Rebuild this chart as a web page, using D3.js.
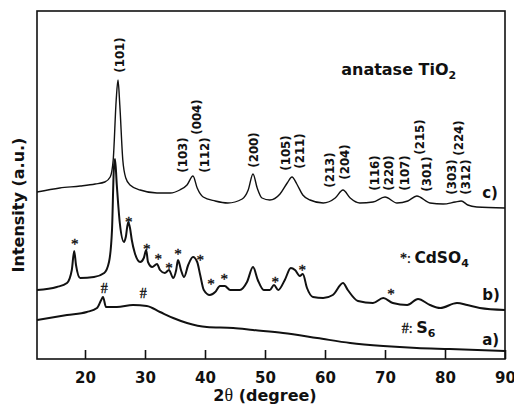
<!DOCTYPE html>
<head>
    <meta charset="utf-8">
    <script src="https://d3js.org/d3.v7.min.js"></script>
    <style>
    body { margin: 0; background: #fff; }
    text { font-family: "DejaVu Sans", sans-serif; fill: #111; }
    .bold { font-weight: bold; }
    .hkl { font-size: 11.8px; font-weight: bold; }
    .tick-label { font-size: 15px; font-weight: bold; font-family: "DejaVu Sans", sans-serif; }
    .mark { font-family: "Liberation Serif", "DejaVu Serif", serif; font-size: 15px; stroke: #111; stroke-width: 0.35px; }
    .curve { fill: none; stroke: #111; stroke-linejoin: round; }
    </style>
</head>
<body>
<script>
// c) anatase TiO2
var ttC = [12.0, 15.8, 19.2, 21.7, 23.3, 24.2, 24.7, 25.2, 25.5, 25.8, 26.3, 26.8, 27.5, 29.2, 32.0, 34.2, 35.8, 37.0, 38.0, 38.7, 39.7, 41.7, 43.8, 46.2, 47.2, 48.0, 48.7, 49.5, 50.8, 52.5, 53.7, 54.5, 55.3, 56.3, 57.5, 59.7, 61.7, 63.0, 64.2, 65.8, 68.0, 70.0, 72.0, 73.8, 75.3, 77.5, 79.7, 81.7, 82.7, 83.8, 85.3, 90.0];
var intC = [167, 171, 173, 175, 177, 182, 199, 259, 279, 254, 199, 181, 174, 169, 166, 166, 169, 174, 183, 171, 162, 158, 156, 160, 169, 185, 171, 161, 159, 165, 176, 182, 175, 164, 159, 156, 161, 169, 161, 156, 157, 162, 156, 158, 163, 156, 155, 157, 158, 154, 152, 151];

// b) with CdSO4
var ttB = [12.0, 15.3, 17.0, 17.8, 18.2, 18.5, 19.2, 21.5, 23.2, 24.0, 24.5, 24.8, 25.0, 25.3, 25.8, 26.5, 26.8, 27.2, 27.5, 27.8, 28.3, 29.2, 29.8, 30.2, 30.5, 31.2, 32.0, 32.5, 33.3, 34.0, 34.7, 35.2, 35.5, 36.0, 36.5, 37.2, 38.0, 38.7, 39.2, 39.8, 40.8, 41.7, 42.5, 43.3, 44.2, 45.8, 47.0, 48.0, 48.8, 49.8, 50.8, 51.5, 52.2, 53.3, 54.3, 55.0, 55.8, 56.3, 57.0, 58.0, 59.7, 61.3, 63.0, 63.8, 65.5, 68.0, 69.7, 71.3, 73.7, 75.5, 77.5, 79.2, 82.0, 83.7, 85.8, 90.0];
var intB = [69, 72, 76, 89, 108, 94, 81, 82, 86, 97, 129, 189, 200, 174, 136, 117, 122, 137, 131, 119, 106, 97, 101, 109, 97, 92, 95, 89, 86, 89, 81, 89, 99, 89, 82, 94, 102, 97, 84, 69, 64, 67, 73, 73, 69, 69, 77, 92, 79, 69, 69, 74, 69, 79, 91, 89, 83, 85, 71, 62, 61, 64, 76, 69, 58, 56, 61, 56, 54, 60, 54, 51, 56, 54, 51, 49];

// a) with S6
var ttA = [12.0, 17.0, 20.3, 22.0, 22.7, 23.0, 23.5, 25.3, 28.0, 30.3, 32.5, 34.7, 37.0, 40.3, 44.7, 48.0, 53.0, 58.7, 64.2, 69.7, 75.3, 80.8, 90.0];
var intA = [39, 44, 47, 51, 59, 62, 52, 52, 54, 53, 47, 41, 36, 32, 31, 29, 26, 21, 16, 13, 11, 10, 8];

var xTicks = [20, 30, 40, 50, 60, 70, 80, 90];

// (hkl) labels of anatase: name, 2theta, intensity of label centre
var hklNames = ["(101)", "(103)", "(004)", "(112)", "(200)", "(105)", "(211)", "(213)", "(204)", "(116)", "(220)", "(107)", "(215)", "(301)", "(303)", "(224)", "(312)"];
var hklTT = [25.8, 36.3, 38.7, 40.0, 48.2, 53.5, 55.8, 60.8, 63.3, 68.3, 70.7, 73.3, 75.8, 77.0, 81.2, 82.3, 83.5];
var hklInt = [304, 204, 242, 204, 209, 206, 208, 189, 197, 186, 186, 186, 222, 185, 182, 221, 182];

// CdSO4 (*) and S6 (#) peak marks
var starTT = [18.3, 27.3, 30.3, 32.2, 34.0, 35.5, 39.2, 41.0, 43.2, 51.7, 56.2, 71.0];
var starInt = [118, 140, 113, 103, 94, 108, 102, 78, 83, 80, 92, 68];
var hashTT = [23.2, 29.7];
var hashInt = [71, 66];

var W = 514, H = 405;
var svg = d3.select("body").append("svg")
    .attr("width", W)
    .attr("height", H);

var x = d3.scaleLinear().domain([12, 90]).range([37, 505]);
var y = d3.scaleLinear().domain([0, 348]).range([359, 11]);

function series(tt, inten) {
    return tt.map(function(d, i) { return [d, inten[i]]; });
}

var line = d3.line()
    .x(function(d) { return x(d[0]); })
    .y(function(d) { return y(d[1]); })
    .curve(d3.curveMonotoneX);

svg.append("path").attr("class", "curve").attr("stroke-width", 1.4).attr("d", line(series(ttC, intC)));
svg.append("path").attr("class", "curve").attr("stroke-width", 2).attr("d", line(series(ttB, intB)));
svg.append("path").attr("class", "curve").attr("stroke-width", 2).attr("d", line(series(ttA, intA)));

// frame
svg.append("rect")
    .attr("x", x(12)).attr("y", y(348))
    .attr("width", x(90) - x(12)).attr("height", y(0) - y(348))
    .attr("fill", "none").attr("stroke", "#111").attr("stroke-width", 1.6);

// bottom axis, ticks pointing inward
var xAxis = d3.axisBottom(x).tickValues(xTicks).tickSize(-9).tickFormat(d3.format("d"));
var gx = svg.append("g").attr("transform", "translate(0," + y(0) + ")").call(xAxis);
gx.select(".domain").remove();
gx.selectAll(".tick line").attr("stroke", "#111").attr("stroke-width", 1.6);
gx.selectAll(".tick text").attr("class", "tick-label").attr("fill", "#111").attr("y", 24).attr("dy", 0);

// axis titles
svg.append("text").attr("class", "bold")
    .attr("transform", "translate(24," + y(154) + ") rotate(-90)")
    .attr("text-anchor", "middle")
    .style("font-size", "16px")
    .text("Intensity (a.u.)");

var xt = svg.append("text").attr("class", "bold")
    .attr("x", x(50)).attr("y", 401)
    .attr("text-anchor", "middle")
    .style("font-size", "16px");
xt.append("tspan").text("2");
xt.append("tspan").style("font-family", "'Liberation Serif', serif").style("font-weight", "normal").style("font-size", "18px").text("\u03b8");
xt.append("tspan").text(" (degree)");

// hkl labels
svg.selectAll(".hkl")
    .data(hklNames)
    .enter().append("text")
    .attr("class", "hkl")
    .attr("transform", function(d, i) { return "translate(" + x(hklTT[i]) + "," + y(hklInt[i]) + ") rotate(-90)"; })
    .attr("text-anchor", "middle")
    .attr("dy", "0.33em")
    .text(function(d) { return d; });

// peak marks
svg.selectAll(".star")
    .data(starTT)
    .enter().append("text")
    .attr("class", "mark")
    .attr("x", function(d) { return x(d); })
    .attr("y", function(d, i) { return y(starInt[i]); })
    .attr("dy", "0.5em")
    .attr("text-anchor", "middle")
    .text("*");

svg.selectAll(".hash")
    .data(hashTT)
    .enter().append("text")
    .attr("class", "mark")
    .attr("x", function(d) { return x(d); })
    .attr("y", function(d, i) { return y(hashInt[i]); })
    .attr("dy", "0.34em")
    .attr("text-anchor", "middle")
    .style("font-size", "14px")
    .text("#");

// titles and legends
var t1 = svg.append("text").attr("class", "bold").attr("x", x(62.7)).attr("y", y(284))
    .style("font-size", "16px");
t1.append("tspan").text("anatase TiO");
t1.append("tspan").attr("dy", 4).style("font-size", "11px").text("2");

var t2 = svg.append("text").attr("x", x(72.5)).attr("y", y(96));
t2.append("tspan").attr("class", "mark").style("font-size", "14px").text("*: ");
t2.append("tspan").attr("class", "bold").style("font-size", "15.5px").text("CdSO");
t2.append("tspan").attr("class", "bold").attr("dy", 4).style("font-size", "11px").text("4");

var t3 = svg.append("text").attr("x", x(72.8)).attr("y", y(26));
t3.append("tspan").attr("class", "mark").style("font-size", "14px").text("#: ");
t3.append("tspan").attr("class", "bold").style("font-size", "16px").text("S");
t3.append("tspan").attr("class", "bold").attr("dy", 4).style("font-size", "11px").text("6");

var curveLabels = ["c)", "b)", "a)"];
var curveLabelInt = [161, 59, 14];
svg.selectAll(".clabel")
    .data(curveLabels)
    .enter().append("text")
    .attr("class", "bold")
    .attr("x", x(86.2))
    .attr("y", function(d, i) { return y(curveLabelInt[i]); })
    .style("font-size", "15px")
    .text(function(d) { return d; });
</script>
</body>
